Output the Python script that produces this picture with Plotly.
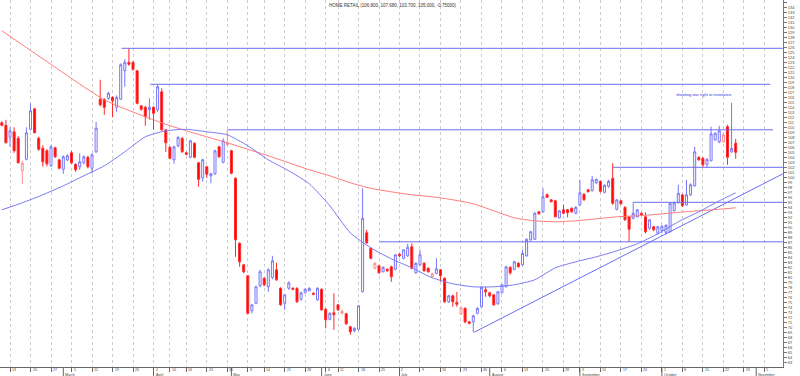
import pandas as pd
import plotly.graph_objects as go

# ---------------- data ----------------
NAME = "HOME RETAIL"
START = "2012-02-09"
END = "2012-11-16"
HOLIDAYS = ["2012-04-06", "2012-04-09", "2012-05-07", "2012-06-04", "2012-06-05", "2012-08-27"]
MONTH_NAMES = ["January", "February", "March", "April", "May", "June", "July",
               "August", "September", "October", "November", "December"]

OPEN = [110.9, 110.4, 108.0, 109.1, 107.8, 101.3, 103.6, 109.6, 113.7, 107.8,
        105.8, 105.3, 102.3, 105.9, 103.5, 101.6, 103.5, 104.9, 102.6, 102.1,
        102.9, 104.0, 101.8, 105.1, 115.6, 115.6, 115.8, 116.0, 114.0, 115.6,
        121.3, 123.0, 123.0, 121.3, 114.3, 114.0, 113.5, 114.0, 113.5, 117.1,
        109.5, 106.0, 103.5, 106.3, 107.8, 104.9, 104.0, 106.8, 102.9, 99.9,
        102.1, 100.3, 100.7, 106.1, 103.0, 106.5, 105.3, 99.8, 86.8, 82.5,
        80.3, 73.3, 74.8, 78.3, 79.8, 78.1, 80.0, 81.5, 77.8, 74.8,
        77.8, 77.8, 77.8, 75.6, 76.9, 77.3, 76.8, 75.5, 77.6, 73.6,
        71.6, 72.9, 74.5, 72.8, 72.7, 70.1, 69.3, 69.6, 77.1, 88.9,
        85.8, 81.8, 82.3, 81.1, 81.6, 82.1, 81.6, 84.6, 83.8, 84.3,
        86.1, 80.9, 82.5, 82.8, 81.8, 80.1, 80.8, 81.5, 79.8, 75.1,
        76.3, 75.0, 72.7, 73.8, 71.1, 71.1, 72.8, 74.1, 77.5, 76.9,
        76.5, 74.7, 76.9, 78.1, 82.0, 81.6, 82.8, 82.5, 84.3, 87.5,
        87.6, 93.1, 93.1, 96.5, 95.5, 95.3, 91.9, 93.5, 93.5, 93.8,
        92.8, 94.5, 96.6, 97.5, 97.3, 98.9, 99.2, 97.0, 98.2, 99.8,
        93.6, 95.3, 94.0, 92.1, 91.8, 92.1, 92.8, 92.1, 89.8, 90.1,
        88.8, 89.4, 89.0, 89.1, 93.3, 94.9, 96.5, 94.5, 96.5, 98.3,
        104.0, 103.8, 102.6, 103.3, 107.5, 107.1, 107.1, 110.1, 105.1, 106.8]
HIGH = [111.2, 111.5, 110.0, 110.0, 108.3, 103.3, 110.0, 114.8, 113.8, 108.1,
        106.4, 105.6, 106.4, 106.1, 103.6, 104.4, 104.6, 105.3, 102.8, 104.8,
        104.4, 104.3, 104.8, 111.1, 119.5, 115.8, 117.1, 116.2, 116.4, 122.8,
        123.6, 125.8, 123.2, 121.4, 114.4, 114.3, 115.8, 114.2, 118.5, 117.8,
        109.6, 106.2, 106.3, 108.2, 108.0, 105.1, 107.5, 107.0, 103.1, 103.7,
        102.3, 100.9, 105.5, 106.3, 107.8, 109.5, 105.5, 100.0, 87.0, 82.6,
        80.4, 74.6, 78.3, 81.5, 80.0, 81.8, 84.3, 82.9, 78.0, 76.7,
        79.2, 78.0, 78.0, 77.1, 77.8, 78.0, 77.0, 78.0, 77.8, 73.8,
        73.0, 76.8, 74.6, 73.5, 72.9, 70.3, 70.0, 74.4, 97.8, 89.5,
        86.0, 83.0, 82.4, 82.2, 81.8, 82.3, 84.6, 84.8, 85.6, 86.7,
        86.8, 83.0, 85.5, 83.0, 82.0, 80.9, 83.8, 81.6, 80.0, 76.5,
        76.5, 77.1, 74.1, 74.0, 71.3, 72.5, 74.0, 78.2, 78.1, 77.1,
        76.6, 77.3, 78.6, 82.3, 82.2, 83.3, 83.0, 85.5, 87.8, 89.3,
        93.0, 93.3, 97.8, 96.8, 95.6, 95.5, 93.4, 94.5, 93.6, 94.0,
        94.2, 99.5, 96.8, 97.6, 100.3, 99.7, 99.3, 98.6, 99.5, 102.8,
        95.6, 95.5, 94.2, 92.3, 95.0, 93.6, 93.0, 93.0, 91.6, 90.3,
        90.3, 90.4, 90.6, 95.0, 95.1, 98.5, 96.6, 99.5, 98.8, 106.1,
        104.2, 104.0, 103.8, 110.1, 109.0, 110.3, 108.8, 110.5, 114.9, 107.68]
LOW = [110.2, 106.8, 106.1, 104.9, 102.8, 98.7, 103.4, 109.4, 108.8, 105.3,
       102.1, 102.2, 102.1, 103.9, 101.6, 100.7, 103.2, 102.7, 101.1, 101.5,
       102.6, 101.8, 100.8, 104.9, 114.2, 112.5, 115.5, 112.0, 113.1, 115.5,
       118.1, 122.3, 121.3, 114.6, 113.3, 110.3, 111.5, 109.5, 113.1, 109.3,
       105.1, 103.6, 102.7, 106.0, 104.9, 104.4, 103.8, 103.8, 98.1, 99.1,
       99.9, 98.8, 100.5, 103.9, 102.8, 106.3, 100.6, 84.1, 82.1, 80.8,
       72.6, 72.8, 74.6, 78.0, 78.2, 77.1, 79.6, 79.3, 74.3, 73.5,
       77.5, 77.4, 74.9, 75.3, 76.8, 77.2, 76.4, 75.3, 73.3, 69.8,
       71.4, 69.5, 73.3, 72.6, 70.5, 68.5, 69.0, 69.4, 77.0, 86.7,
       83.6, 81.6, 80.7, 81.0, 81.1, 79.1, 81.4, 84.0, 83.6, 84.1,
       81.6, 80.7, 82.3, 81.1, 80.9, 80.0, 80.6, 79.1, 74.9, 74.9,
       74.1, 74.1, 72.5, 70.8, 70.6, 69.0, 72.6, 74.0, 76.1, 76.0,
       74.3, 74.5, 76.8, 78.0, 80.5, 81.4, 82.0, 82.3, 84.1, 87.3,
       87.5, 92.5, 93.0, 95.9, 95.0, 92.0, 91.8, 92.6, 92.0, 92.9,
       92.6, 94.3, 95.3, 97.0, 97.2, 98.7, 96.9, 96.8, 97.9, 94.5,
       93.4, 94.5, 91.3, 87.1, 91.6, 92.0, 92.3, 88.8, 89.5, 89.2,
       88.5, 88.8, 88.6, 89.0, 93.2, 94.8, 94.1, 94.3, 96.3, 98.1,
       103.3, 102.0, 102.0, 103.2, 107.3, 106.8, 106.9, 102.5, 104.9, 103.7]
CLOSE = [110.4, 106.9, 109.3, 105.3, 102.9, 102.8, 108.9, 113.3, 108.9, 105.6,
         103.1, 102.7, 106.1, 104.1, 101.8, 104.1, 104.3, 102.9, 101.5, 103.1,
         104.1, 102.1, 104.5, 109.8, 114.5, 114.0, 116.8, 115.3, 116.0, 122.5,
         123.0, 122.6, 121.6, 114.8, 113.6, 112.1, 114.0, 112.8, 118.1, 109.5,
         106.9, 103.8, 106.1, 108.0, 105.1, 104.6, 107.3, 104.0, 99.6, 103.5,
         100.6, 100.7, 105.3, 104.1, 107.3, 106.9, 100.8, 87.5, 83.1, 81.1,
         72.8, 74.5, 78.1, 81.1, 78.5, 81.5, 83.3, 79.5, 74.5, 76.5,
         78.9, 77.6, 75.1, 76.9, 77.6, 77.8, 76.6, 77.8, 73.5, 71.5,
         72.8, 72.5, 73.5, 73.2, 70.7, 69.1, 69.8, 74.3, 91.8, 86.9,
         83.8, 82.8, 80.9, 82.0, 81.3, 80.1, 84.5, 84.3, 85.5, 86.0,
         81.8, 82.8, 84.5, 81.3, 81.1, 80.7, 81.7, 80.3, 75.1, 76.3,
         75.1, 74.6, 73.9, 71.1, 70.8, 72.3, 73.8, 78.0, 77.1, 76.3,
         74.5, 77.1, 78.5, 82.1, 80.9, 83.1, 82.1, 84.8, 87.6, 89.1,
         92.8, 92.7, 96.1, 96.0, 95.1, 92.1, 93.3, 92.8, 92.9, 93.1,
         94.0, 96.9, 95.5, 97.1, 99.5, 99.6, 97.2, 98.4, 99.2, 94.8,
         95.5, 94.7, 91.5, 89.6, 92.8, 93.5, 92.5, 89.1, 91.5, 89.5,
         90.1, 90.2, 90.4, 94.8, 94.9, 96.8, 94.3, 96.5, 98.5, 105.1,
         103.5, 102.5, 103.6, 108.7, 108.8, 109.3, 108.5, 104.0, 105.75, 105.0]

MA_IDX = [0, 5, 10, 15, 20, 25, 30, 35, 40, 45, 50, 55, 60, 65, 70, 75, 80, 85,
          90, 95, 100, 105, 110, 115, 120, 125, 130, 135, 140, 145, 150, 155,
          160, 165, 170, 175, 179]
MA_SLOW = [129.3, 126.5, 123.7, 120.9, 118.1, 115.5, 113.7, 112.1, 110.6, 109.3,
           108.1, 106.9, 105.6, 104.3, 102.9, 101.5, 100.3, 98.9, 97.8, 97.1,
           96.5, 96.1, 95.5, 94.7, 93.3, 91.9, 91.3, 91.1, 91.3, 91.7,
           92.1, 92.3, 92.6, 93.0, 93.3, 93.6, 93.9]
MA_FAST = [93.5, 94.9, 96.5, 98.3, 100.3, 102.3, 105.1, 108.1, 109.3, 109.6,
           109.1, 108.5, 106.3, 103.5, 101.3, 98.7, 94.3, 88.9, 85.9, 83.7,
           81.9, 79.9, 78.7, 78.1, 78.1, 78.5, 79.5, 81.9, 83.1, 84.1,
           85.3, 86.7, 88.7, 91.1, 93.1, 95.3, 96.9]

# drawn support / resistance levels
LEVELS = [125.8, 118.6, 109.5, 102.0, 95.0, 87.1]
LEVEL_FROM = [29.2, 36.2, 55.1, 149.1, 154.0, 92.2]
LEVEL_TO = [190.5, 187.4, 188.1, 190.5, 190.5, 190.5]

TREND_X = [115.2, 190.5]
TREND_Y = [69.0, 100.7]

NOTE_TEXT = "shooting star right at resistance"
NOTE_X = 171.3
NOTE_Y = 116.5

X_RANGE = [-0.44, 190.54]
Y_RANGE = [62.06, 135.46]

# ---------------- build ----------------
days = pd.bdate_range(START, END)
days = days[~days.isin(pd.to_datetime(HOLIDAYS))]

week_ticks, week_text, month_ticks, month_text = [], [], [], []
for k in range(1, len(days)):
    if k > X_RANGE[1]:
        break
    if days[k].weekday() < days[k - 1].weekday():
        week_ticks.append(k)
        week_text.append(str(days[k].day))
    if days[k].month != days[k - 1].month:
        month_ticks.append(k)
        month_text.append(MONTH_NAMES[days[k].month - 1])

n = len(CLOSE)
groups = {"red": [], "blue": [], "pink": []}
for k in range(n):
    prev = CLOSE[k - 1] if k > 0 else OPEN[0]
    if CLOSE[k] < OPEN[k]:
        groups["red"].append(k)
    elif CLOSE[k] >= prev:
        groups["blue"].append(k)
    else:
        groups["pink"].append(k)

STYLE = {
    "red": dict(line="#ff2a2a", fill="#ff0000"),
    "blue": dict(line="#7676fb", fill="#ffffff"),
    "pink": dict(line="#ff8c8c", fill="#ffffff"),
}

LINE_BLUE = "#6c6cf0"

fig = go.Figure()

for lv, a, b in zip(LEVELS, LEVEL_FROM, LEVEL_TO):
    fig.add_trace(go.Scatter(x=[a, b], y=[lv, lv], mode="lines",
                             line=dict(color=LINE_BLUE, width=1), hoverinfo="skip"))

fig.add_trace(go.Scatter(x=TREND_X, y=TREND_Y, mode="lines",
                         line=dict(color=LINE_BLUE, width=1), hoverinfo="skip"))

fig.add_trace(go.Scatter(x=MA_IDX, y=MA_SLOW, mode="lines",
                         line=dict(color="#ff7a7a", width=1, shape="spline", smoothing=0.6)))
fig.add_trace(go.Scatter(x=MA_IDX, y=MA_FAST, mode="lines",
                         line=dict(color="#7a7af5", width=1, shape="spline", smoothing=0.6)))

for name, idx in groups.items():
    if not idx:
        continue
    st = STYLE[name]
    sty = dict(line=dict(color=st["line"], width=1), fillcolor=st["fill"])
    fig.add_trace(go.Candlestick(
        x=idx,
        open=[OPEN[k] for k in idx], high=[HIGH[k] for k in idx],
        low=[LOW[k] for k in idx], close=[CLOSE[k] for k in idx],
        increasing=sty, decreasing=sty, whiskerwidth=0, name=name))

FONT = "Liberation Sans"
ann = []
last = n - 1
title = "%s (%.3f, %.3f, %.3f, %.3f, %.5f)" % (
    NAME, OPEN[last], HIGH[last], LOW[last], CLOSE[last], CLOSE[last] - CLOSE[last - 1])
ann.append(dict(text=title, xref="paper", yref="paper", x=0.502, y=1, yanchor="top",
                xanchor="center", yshift=-1, showarrow=False,
                font=dict(family=FONT, size=4.5, color="#333")))
ann.append(dict(text=NOTE_TEXT, x=NOTE_X, y=NOTE_Y, xref="x", yref="y", showarrow=False,
                font=dict(family=FONT, size=4, color="#3030e0")))
for t, s in zip(week_ticks, week_text):
    ann.append(dict(text=s, x=t, xref="x", yref="paper", y=0, yanchor="top", xanchor="left",
                    xshift=1, yshift=0, showarrow=False, borderpad=0,
                    font=dict(family=FONT, size=3.6, color="#444")))
for t, s in zip(month_ticks, month_text):
    ann.append(dict(text=s, x=t, xref="x", yref="paper", y=-0.0136, yanchor="top", xanchor="left",
                    xshift=1, showarrow=False, borderpad=0,
                    font=dict(family=FONT, size=3.6, color="#444")))

shapes = []
for t in month_ticks:
    shapes.append(dict(type="line", xref="x", yref="paper", x0=t, x1=t, y0=0, y1=-0.03,
                       line=dict(color="#666", width=1)))

fig.update_layout(
    width=800, height=376,
    margin=dict(l=0, r=17, t=0, b=9),
    paper_bgcolor="white", plot_bgcolor="white",
    showlegend=False,
    annotations=ann, shapes=shapes,
    font=dict(family=FONT),
    xaxis=dict(range=X_RANGE, tickmode="array", tickvals=week_ticks, showticklabels=False,
               ticks="outside", ticklen=4, tickcolor="#666", showgrid=True,
               gridcolor="#cccccc", griddash="dot", gridwidth=1, showline=True,
               linecolor="#666", zeroline=False, rangeslider=dict(visible=False)),
    yaxis=dict(range=Y_RANGE, side="right", tickmode="linear", tick0=0, dtick=1,
               ticks="outside", ticklen=3, tickcolor="#777",
               tickfont=dict(family=FONT, size=4, color="#444"),
               showgrid=False, showline=True, linecolor="#777", zeroline=False),
)

fig.write_html("out.html",
               config={"displayModeBar": False},
               post_script="document.body.style.margin='0';document.body.style.overflow='hidden';")
